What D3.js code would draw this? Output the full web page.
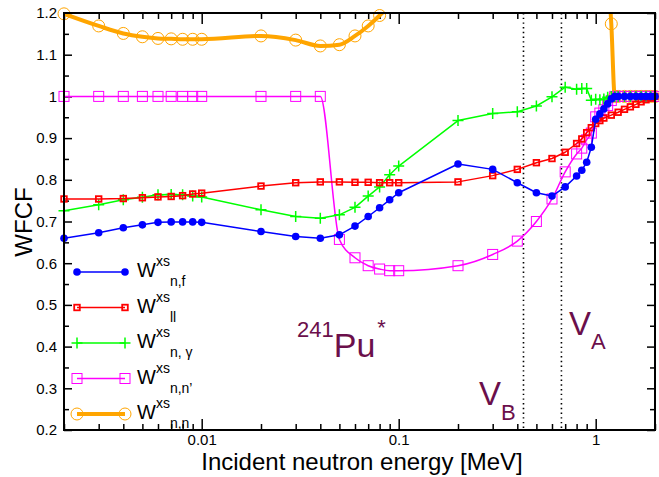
<!DOCTYPE html>
<html>
<head>
<meta charset="utf-8">
<script src="https://cdn.jsdelivr.net/npm/d3@7"></script>
<style>
  body { margin: 0; background: #fff; }
  svg { display: block; }
  text { font-family: "Liberation Sans", Arial, Helvetica, sans-serif; }
</style>
</head>
<body>
<svg id="chart" width="659" height="477"></svg>
<script>
// Incident neutron energies [MeV] and WFCF values for each channel
const energyFission = [0.002,0.003,0.004,0.005,0.006,0.007,0.008,0.009,0.01,
  0.02,0.03,0.04,0.05,0.06,0.07,0.08,0.09,0.1,
  0.2,0.3,0.4,0.5,0.6,0.7,0.8,0.85,0.9,0.95,
  1.0,1.05,1.1,1.15,1.2,1.25,1.3,1.4,1.5,1.6,1.7,1.8,1.9,2.0];
const wFission = [0.660,0.673,0.685,0.692,0.698,0.699,0.699,0.699,0.698,
  0.676,0.664,0.660,0.668,0.689,0.712,0.733,0.752,0.769,
  0.838,0.825,0.793,0.769,0.761,0.783,0.809,0.823,0.842,0.878,
  0.945,0.958,0.970,0.982,0.994,1,1,1,1,1,1,1,1,1];

const energyLL = [0.002,0.003,0.004,0.005,0.006,0.007,0.008,0.009,0.01,
  0.02,0.03,0.04,0.05,0.06,0.07,0.08,0.09,0.1,
  0.2,0.3,0.4,0.5,0.6,0.7,0.8,0.85,0.9,0.95,
  1.0,1.05,1.1,1.2,1.3,1.4,1.5,1.6,1.7,1.8,1.9,2.0];
const wLL = [0.754,0.754,0.755,0.757,0.759,0.760,0.762,0.766,0.768,
  0.785,0.793,0.795,0.795,0.794,0.794,0.793,0.793,0.793,
  0.795,0.810,0.825,0.841,0.851,0.866,0.887,0.898,0.913,0.925,
  0.935,0.942,0.948,0.955,0.962,0.969,0.975,0.981,0.987,0.992,0.996,1.0];

const energyCapture = energyFission;
const wCapture = [0.726,0.740,0.752,0.758,0.764,0.765,0.764,0.761,0.759,
  0.728,0.712,0.708,0.716,0.734,0.761,0.783,0.812,0.833,
  0.942,0.959,0.963,0.977,0.999,1.022,1.017,1.019,1.019,0.991,
  0.993,0.992,0.994,0.998,1.0,1,1,1,1,1,1,1,1,1];

const energyInelastic = energyFission;
const wInelastic = [1,1,1,1,1,1,1,1,1,
  1,1,1,0.657,0.613,0.594,0.586,0.582,0.582,
  0.594,0.621,0.653,0.700,0.754,0.819,0.862,0.876,0.896,0.912,
  0.951,0.960,0.968,0.978,0.990,1,1,1,1,1,1,1,1,1];

const energyElastic = [0.002,0.003,0.004,0.005,0.006,0.007,0.008,0.009,0.01,
  0.02,0.03,0.04,0.05,0.06,0.07,0.08,0.09,0.1,
  1.1,1.2,1.25,1.3,1.4,1.5,1.6,1.7,1.8,1.9,2.0];
const wElastic = [1.198,1.169,1.151,1.143,1.139,1.138,1.137,1.137,1.137,
  1.145,1.135,1.121,1.124,1.145,1.169,1.194,1.220,1.250,
  1.360,1.174,1.0,1,1,1,1,1,1,1,1];

// Axis ticks
const xMajorTicks = [0.01, 0.1, 1];
const xTickLabels = ["0.01", "0.1", "1"];
const yTickValues = [0.2,0.3,0.4,0.5,0.6,0.7,0.8,0.9,1.0,1.1,1.2];
const yTickLabels = ["0.2","0.3","0.4","0.5","0.6","0.7","0.8","0.9","1","1.1","1.2"];

// Barrier heights V_B and V_A [MeV]
const barrierEnergies = [0.43, 0.67];

(function () {
const svg = d3.select("#chart");
const pLeft = 64, pRight = 655, pTop = 13, pBottom = 430;

const x = d3.scaleLog().domain([0.002, 2]).range([pLeft, pRight]);
const y = d3.scaleLinear().domain([0.2, 1.2]).range([pBottom, pTop]);

svg.append("defs").append("clipPath").attr("id", "plotClip")
  .append("rect").attr("x", pLeft).attr("y", pTop)
  .attr("width", pRight - pLeft).attr("height", pBottom - pTop);

// Minor tick positions
const xMinor = [];
[0.001, 0.01, 0.1, 1].forEach(dec => {
  for (let k = 2; k <= 9; k++) {
    const v = +(dec * k).toPrecision(3);
    if (v >= 0.002 && v <= 2) xMinor.push(v);
  }
});
const yMinor = [];
for (let i = 0; i < yTickValues.length - 1; i++) {
  yMinor.push(+((yTickValues[i] + yTickValues[i + 1]) / 2).toFixed(2));
}

function styleAxis(g) {
  g.select(".domain").remove();
  g.selectAll("line").attr("stroke", "#000").attr("stroke-width", 1.5);
  g.selectAll("text").attr("fill", "#000")
    .style("font-family", '"Liberation Sans", Arial, sans-serif')
    .style("font-size", "15px");
}

// Bottom axis
svg.append("g").attr("transform", `translate(0,${pBottom})`)
  .call(d3.axisBottom(x).tickValues(xMajorTicks)
    .tickFormat((d, i) => xTickLabels[i]).tickSize(-11).tickPadding(4))
  .call(styleAxis);
svg.append("g").attr("transform", `translate(0,${pBottom})`)
  .call(d3.axisBottom(x).tickValues(xMinor).tickFormat("").tickSize(-6))
  .call(styleAxis);
// Top axis
svg.append("g").attr("transform", `translate(0,${pTop})`)
  .call(d3.axisTop(x).tickValues(xMajorTicks).tickFormat("").tickSize(-11))
  .call(styleAxis);
svg.append("g").attr("transform", `translate(0,${pTop})`)
  .call(d3.axisTop(x).tickValues(xMinor).tickFormat("").tickSize(-6))
  .call(styleAxis);
// Left axis
svg.append("g").attr("transform", `translate(${pLeft},0)`)
  .call(d3.axisLeft(y).tickValues(yTickValues)
    .tickFormat((d, i) => yTickLabels[i]).tickSize(-8).tickPadding(7))
  .call(styleAxis);
svg.append("g").attr("transform", `translate(${pLeft},0)`)
  .call(d3.axisLeft(y).tickValues(yMinor).tickFormat("").tickSize(-5))
  .call(styleAxis);
// Right axis
svg.append("g").attr("transform", `translate(${pRight},0)`)
  .call(d3.axisRight(y).tickValues(yTickValues).tickFormat("").tickSize(-8))
  .call(styleAxis);
svg.append("g").attr("transform", `translate(${pRight},0)`)
  .call(d3.axisRight(y).tickValues(yMinor).tickFormat("").tickSize(-5))
  .call(styleAxis);

// Barrier lines
svg.selectAll(".barrier").data(barrierEnergies).enter().append("line")
  .attr("class", "barrier")
  .attr("x1", d => x(d)).attr("x2", d => x(d))
  .attr("y1", pTop).attr("y2", pBottom)
  .attr("stroke", "#000").attr("stroke-width", 1.6)
  .attr("stroke-dasharray", "1.4,3.3");

// Marker symbols
function drawMarker(g, kind, color) {
  if (kind === "dot") {
    g.append("circle").attr("r", 3.8).attr("fill", color);
  } else if (kind === "smallSquare") {
    g.append("rect").attr("x", -2.8).attr("y", -2.8).attr("width", 5.6).attr("height", 5.6)
      .attr("fill", "none").attr("stroke", color).attr("stroke-width", 1.8);
  } else if (kind === "plus") {
    g.append("path").attr("d", "M-5.5,0H5.5M0,-5.5V5.5")
      .attr("stroke", color).attr("stroke-width", 1.5).attr("fill", "none");
  } else if (kind === "square") {
    g.append("rect").attr("x", -5).attr("y", -5).attr("width", 10).attr("height", 10)
      .attr("fill", "none").attr("stroke", color).attr("stroke-width", 1);
  } else if (kind === "circle") {
    g.append("circle").attr("r", 6).attr("fill", "none")
      .attr("stroke", color).attr("stroke-width", 1);
  }
}

const series = [
  { e: energyElastic, w: wElastic, color: "#ffa500", width: 4, marker: "circle", curve: d3.curveMonotoneX,
    label: "n,n" },
  { e: energyInelastic, w: wInelastic, color: "#ff00ff", width: 1.5, marker: "square", curve: d3.curveMonotoneX,
    label: "n,n\u2019" },
  { e: energyCapture, w: wCapture, color: "#00ff00", width: 1.5, marker: "plus", curve: d3.curveLinear,
    label: "n, \u03b3" },
  { e: energyLL, w: wLL, color: "#ff0000", width: 1.5, marker: "smallSquare", curve: d3.curveLinear,
    label: "ll" },
  { e: energyFission, w: wFission, color: "#0000ff", width: 1.5, marker: "dot", curve: d3.curveLinear,
    label: "n,f" }
];

series.forEach(s => {
  const pts = s.e.map((e, i) => [e, s.w[i]]);
  const line = d3.line().x(d => x(d[0])).y(d => y(d[1])).curve(s.curve);
  svg.append("path").datum(pts)
    .attr("d", line).attr("fill", "none")
    .attr("stroke", s.color).attr("stroke-width", s.width)
    .attr("stroke-linejoin", "round")
    .attr("clip-path", "url(#plotClip)");
  pts.filter(d => d[1] <= 1.2001).forEach(d => {
    const g = svg.append("g").attr("transform", `translate(${x(d[0])},${y(d[1])})`);
    drawMarker(g, s.marker, s.color);
  });
});

// Frame
svg.append("rect").attr("x", pLeft).attr("y", pTop)
  .attr("width", pRight - pLeft).attr("height", pBottom - pTop)
  .attr("fill", "none").attr("stroke", "#000").attr("stroke-width", 2);

// Legend
const legendOrder = [4, 3, 2, 1, 0];
const legendRows = [272, 307.5, 343, 378.5, 414];
legendOrder.forEach((si, r) => {
  const s = series[si];
  const cy = legendRows[r];
  svg.append("line").attr("x1", 77).attr("x2", 125).attr("y1", cy).attr("y2", cy)
    .attr("stroke", s.color).attr("stroke-width", s.width);
  [77, 125].forEach(px => {
    const g = svg.append("g").attr("transform", `translate(${px},${cy})`);
    drawMarker(g, s.marker, s.color);
  });
  const t = svg.append("text").attr("x", 137).attr("y", cy + 5).attr("fill", "#000");
  t.append("tspan").attr("font-size", 20).text("W");
  t.append("tspan").attr("font-size", 14).attr("dy", -11).text("xs");
  t.append("tspan").attr("font-size", 14).attr("dy", 20).text(s.label);
});

// Annotations
const annotColor = "#6b0f4b";
const pu = svg.append("text").attr("x", 297).attr("y", 357).attr("fill", annotColor);
pu.append("tspan").attr("font-size", 22).attr("dy", -20).text("241");
pu.append("tspan").attr("font-size", 34).attr("dy", 20).text("Pu");
pu.append("tspan").attr("font-size", 22).attr("dy", -22).attr("dx", 2).text("*");

const va = svg.append("text").attr("x", 569).attr("y", 335).attr("fill", annotColor);
va.append("tspan").attr("font-size", 33).text("V");
va.append("tspan").attr("font-size", 22).attr("dy", 14).text("A");

const vb = svg.append("text").attr("x", 479).attr("y", 405).attr("fill", annotColor);
vb.append("tspan").attr("font-size", 33).text("V");
vb.append("tspan").attr("font-size", 22).attr("dy", 15).text("B");

// Axis titles
svg.append("text").attr("x", 362).attr("y", 470).attr("text-anchor", "middle")
  .attr("font-size", 24).attr("fill", "#000").text("Incident neutron energy [MeV]");
svg.append("text").attr("transform", "translate(32,222) rotate(-90)")
  .attr("text-anchor", "middle").attr("font-size", 24).attr("fill", "#000").text("WFCF");
})();
</script>
</body>
</html>
